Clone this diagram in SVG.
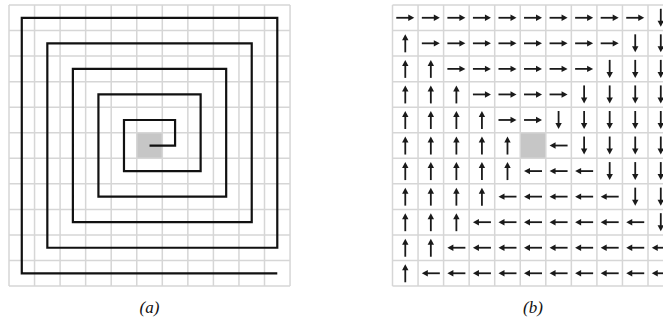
<svg xmlns="http://www.w3.org/2000/svg" xmlns:xlink="http://www.w3.org/1999/xlink" width="663" height="324" viewBox="0 0 663 324">
<style>
.grid{stroke:#d6d6d6;stroke-width:1.5;fill:none}
.cell{fill:#c6c6c6}
.spiral{stroke:#111;stroke-width:2.2;fill:none;stroke-linejoin:miter}
.sh{stroke:#1a1a1a;stroke-width:1.8;fill:none}
.hd{fill:#1a1a1a}
.lbl{font-family:"Liberation Serif","Times New Roman",serif;font-style:italic;font-size:17px;fill:#111;text-anchor:middle}
</style>
<defs>
<g id="R"><path class="sh" d="M-9,0H4"/><path class="hd" d="M9,0L3,-3.2L3,3.2Z"/></g>
<g id="L"><path class="sh" d="M9,0H-4"/><path class="hd" d="M-9,0L-3,-3.2L-3,3.2Z"/></g>
<g id="D"><path class="sh" d="M0,-9V4"/><path class="hd" d="M0,9L-3.2,3L3.2,3Z"/></g>
<g id="U"><path class="sh" d="M0,9V-4"/><path class="hd" d="M0,-9L-3.2,-3L3.2,-3Z"/></g>
</defs>

<g id="panel-a">
<rect class="cell" x="136.75" y="132.75" width="25.55" height="25.55"/>
<path class="grid" d="M9,5V286.05M34.55,5V286.05M60.1,5V286.05M85.65,5V286.05M111.2,5V286.05M136.75,5V286.05M162.3,5V286.05M187.85,5V286.05M213.4,5V286.05M238.95,5V286.05M264.5,5V286.05M290.05,5V286.05
M9,5H290.05M9,30.55H290.05M9,56.1H290.05M9,81.65H290.05M9,107.2H290.05M9,132.75H290.05M9,158.3H290.05M9,183.85H290.05M9,209.4H290.05M9,234.95H290.05M9,260.5H290.05M9,286.05H290.05"/>
<g id="connectors">
<path id="spiral" class="spiral" d="M149.53,145.53H175.08V119.98H123.98V171.08H200.63V94.43H98.43V196.63H226.18V68.88H72.88V222.18H251.73V43.33H47.33V247.73H277.28V17.78H21.78V273.28H277.28"/>
</g>
<text id="label-a" class="lbl" x="149.5" y="313">(a)</text>
</g>

<g id="panel-b">
<rect class="cell" x="520.25" y="132.75" width="25.55" height="25.55"/>
<path class="grid" d="M392.5,5V286.05M418.05,5V286.05M443.6,5V286.05M469.15,5V286.05M494.7,5V286.05M520.25,5V286.05M545.8,5V286.05M571.35,5V286.05M596.9,5V286.05M622.45,5V286.05M648,5V286.05M673.55,5V286.05
M392.5,5H673.55M392.5,30.55H673.55M392.5,56.1H673.55M392.5,81.65H673.55M392.5,107.2H673.55M392.5,132.75H673.55M392.5,158.3H673.55M392.5,183.85H673.55M392.5,209.4H673.55M392.5,234.95H673.55M392.5,260.5H673.55M392.5,286.05H673.55"/>
<g id="arrows">
<g id="row0">
<use href="#R" x="405.28" y="17.78"/><use href="#R" x="430.83" y="17.78"/><use href="#R" x="456.38" y="17.78"/><use href="#R" x="481.93" y="17.78"/><use href="#R" x="507.48" y="17.78"/><use href="#R" x="533.03" y="17.78"/><use href="#R" x="558.58" y="17.78"/><use href="#R" x="584.13" y="17.78"/><use href="#R" x="609.68" y="17.78"/><use href="#R" x="635.23" y="17.78"/><use href="#D" x="660.78" y="17.78"/>
</g>
<g id="row1">
<use href="#U" x="405.28" y="43.33"/><use href="#R" x="430.83" y="43.33"/><use href="#R" x="456.38" y="43.33"/><use href="#R" x="481.93" y="43.33"/><use href="#R" x="507.48" y="43.33"/><use href="#R" x="533.03" y="43.33"/><use href="#R" x="558.58" y="43.33"/><use href="#R" x="584.13" y="43.33"/><use href="#R" x="609.68" y="43.33"/><use href="#D" x="635.23" y="43.33"/><use href="#D" x="660.78" y="43.33"/>
</g>
<g id="row2">
<use href="#U" x="405.28" y="68.88"/><use href="#U" x="430.83" y="68.88"/><use href="#R" x="456.38" y="68.88"/><use href="#R" x="481.93" y="68.88"/><use href="#R" x="507.48" y="68.88"/><use href="#R" x="533.03" y="68.88"/><use href="#R" x="558.58" y="68.88"/><use href="#R" x="584.13" y="68.88"/><use href="#D" x="609.68" y="68.88"/><use href="#D" x="635.23" y="68.88"/><use href="#D" x="660.78" y="68.88"/>
</g>
<g id="row3">
<use href="#U" x="405.28" y="94.43"/><use href="#U" x="430.83" y="94.43"/><use href="#U" x="456.38" y="94.43"/><use href="#R" x="481.93" y="94.43"/><use href="#R" x="507.48" y="94.43"/><use href="#R" x="533.03" y="94.43"/><use href="#R" x="558.58" y="94.43"/><use href="#D" x="584.13" y="94.43"/><use href="#D" x="609.68" y="94.43"/><use href="#D" x="635.23" y="94.43"/><use href="#D" x="660.78" y="94.43"/>
</g>
<g id="row4">
<use href="#U" x="405.28" y="119.98"/><use href="#U" x="430.83" y="119.98"/><use href="#U" x="456.38" y="119.98"/><use href="#U" x="481.93" y="119.98"/><use href="#R" x="507.48" y="119.98"/><use href="#R" x="533.03" y="119.98"/><use href="#D" x="558.58" y="119.98"/><use href="#D" x="584.13" y="119.98"/><use href="#D" x="609.68" y="119.98"/><use href="#D" x="635.23" y="119.98"/><use href="#D" x="660.78" y="119.98"/>
</g>
<g id="row5">
<use href="#U" x="405.28" y="145.53"/><use href="#U" x="430.83" y="145.53"/><use href="#U" x="456.38" y="145.53"/><use href="#U" x="481.93" y="145.53"/><use href="#U" x="507.48" y="145.53"/><use href="#L" x="558.58" y="145.53"/><use href="#D" x="584.13" y="145.53"/><use href="#D" x="609.68" y="145.53"/><use href="#D" x="635.23" y="145.53"/><use href="#D" x="660.78" y="145.53"/>
</g>
<g id="row6">
<use href="#U" x="405.28" y="171.08"/><use href="#U" x="430.83" y="171.08"/><use href="#U" x="456.38" y="171.08"/><use href="#U" x="481.93" y="171.08"/><use href="#U" x="507.48" y="171.08"/><use href="#L" x="533.03" y="171.08"/><use href="#L" x="558.58" y="171.08"/><use href="#L" x="584.13" y="171.08"/><use href="#D" x="609.68" y="171.08"/><use href="#D" x="635.23" y="171.08"/><use href="#D" x="660.78" y="171.08"/>
</g>
<g id="row7">
<use href="#U" x="405.28" y="196.63"/><use href="#U" x="430.83" y="196.63"/><use href="#U" x="456.38" y="196.63"/><use href="#U" x="481.93" y="196.63"/><use href="#L" x="507.48" y="196.63"/><use href="#L" x="533.03" y="196.63"/><use href="#L" x="558.58" y="196.63"/><use href="#L" x="584.13" y="196.63"/><use href="#L" x="609.68" y="196.63"/><use href="#D" x="635.23" y="196.63"/><use href="#D" x="660.78" y="196.63"/>
</g>
<g id="row8">
<use href="#U" x="405.28" y="222.18"/><use href="#U" x="430.83" y="222.18"/><use href="#U" x="456.38" y="222.18"/><use href="#L" x="481.93" y="222.18"/><use href="#L" x="507.48" y="222.18"/><use href="#L" x="533.03" y="222.18"/><use href="#L" x="558.58" y="222.18"/><use href="#L" x="584.13" y="222.18"/><use href="#L" x="609.68" y="222.18"/><use href="#L" x="635.23" y="222.18"/><use href="#D" x="660.78" y="222.18"/>
</g>
<g id="row9">
<use href="#U" x="405.28" y="247.73"/><use href="#U" x="430.83" y="247.73"/><use href="#L" x="456.38" y="247.73"/><use href="#L" x="481.93" y="247.73"/><use href="#L" x="507.48" y="247.73"/><use href="#L" x="533.03" y="247.73"/><use href="#L" x="558.58" y="247.73"/><use href="#L" x="584.13" y="247.73"/><use href="#L" x="609.68" y="247.73"/><use href="#L" x="635.23" y="247.73"/><use href="#L" x="660.78" y="247.73"/>
</g>
<g id="row10">
<use href="#U" x="405.28" y="273.28"/><use href="#L" x="430.83" y="273.28"/><use href="#L" x="456.38" y="273.28"/><use href="#L" x="481.93" y="273.28"/><use href="#L" x="507.48" y="273.28"/><use href="#L" x="533.03" y="273.28"/><use href="#L" x="558.58" y="273.28"/><use href="#L" x="584.13" y="273.28"/><use href="#L" x="609.68" y="273.28"/><use href="#L" x="635.23" y="273.28"/><use href="#L" x="660.78" y="273.28"/>
</g>
</g>
<text id="label-b" class="lbl" x="533" y="313">(b)</text>
</g>
</svg>
